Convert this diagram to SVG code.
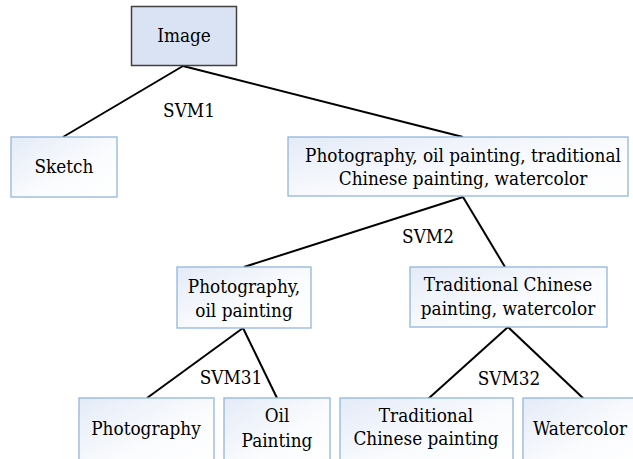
<svg xmlns="http://www.w3.org/2000/svg" width="633" height="459" viewBox="0 0 633 459">
<defs>
<linearGradient id="g" x1="0" y1="0" x2="1" y2="1">
<stop offset="0" stop-color="#e4ebf7"/>
<stop offset="0.6" stop-color="#fbfcfe"/>
<stop offset="1" stop-color="#ffffff"/>
</linearGradient>
</defs>
<style>
.box{fill:url(#g);stroke:#93b6de;stroke-width:1.3}
.root{fill:#dae3f3;stroke:#404040;stroke-width:1.5}
text{font-family:"DejaVu Serif Condensed","DejaVu Serif",serif;font-stretch:condensed;font-size:18.8px;fill:#000;text-anchor:middle}
.conn line{stroke:#000;stroke-width:2}
</style>
<rect width="633" height="459" fill="#fff"/>
<g class="conn">
<line x1="183" y1="66" x2="63" y2="137"/>
<line x1="183" y1="66" x2="463" y2="137"/>
<line x1="463" y1="197" x2="244" y2="267"/>
<line x1="463" y1="197" x2="505" y2="267"/>
<line x1="243" y1="328" x2="147" y2="398"/>
<line x1="243" y1="328" x2="277" y2="398"/>
<line x1="508" y1="327" x2="428" y2="399"/>
<line x1="508" y1="327" x2="584" y2="399"/>
</g>
<g id="labels">
<text x="189" y="117">SVM1</text>
<text x="428" y="243">SVM2</text>
<text x="231" y="384">SVM31</text>
<text x="509" y="385">SVM32</text>
</g>
<g id="image"><rect class="root" x="131.5" y="6.5" width="105" height="59"/><text x="184" y="42">Image</text></g>
<g id="sketch"><rect class="box" x="11" y="137" width="106" height="60"/><text x="64" y="173">Sketch</text></g>
<g id="all"><rect class="box" x="288" y="137" width="340" height="59"/><text x="463" y="162">Photography, oil painting, traditional</text><text x="463" y="185">Chinese painting, watercolor</text></g>
<g id="photooil"><rect class="box" x="177" y="267" width="134" height="61"/><text x="244" y="293">Photography,</text><text x="244" y="317">oil painting</text></g>
<g id="tradwater"><rect class="box" x="410" y="267" width="197" height="60"/><text x="508" y="291">Traditional Chinese</text><text x="508" y="315">painting, watercolor</text></g>
<g id="photography"><rect class="box" x="79" y="398" width="135" height="70"/><text x="146" y="435">Photography</text></g>
<g id="oil"><rect class="box" x="224" y="398" width="106" height="70"/><text x="277" y="422">Oil</text><text x="277" y="447">Painting</text></g>
<g id="tcp"><rect class="box" x="340" y="398" width="173" height="70"/><text x="426" y="422">Traditional</text><text x="426" y="445">Chinese painting</text></g>
<g id="watercolor"><rect class="box" x="523" y="398" width="120" height="70"/><text x="580" y="435">Watercolor</text></g>
</svg>
